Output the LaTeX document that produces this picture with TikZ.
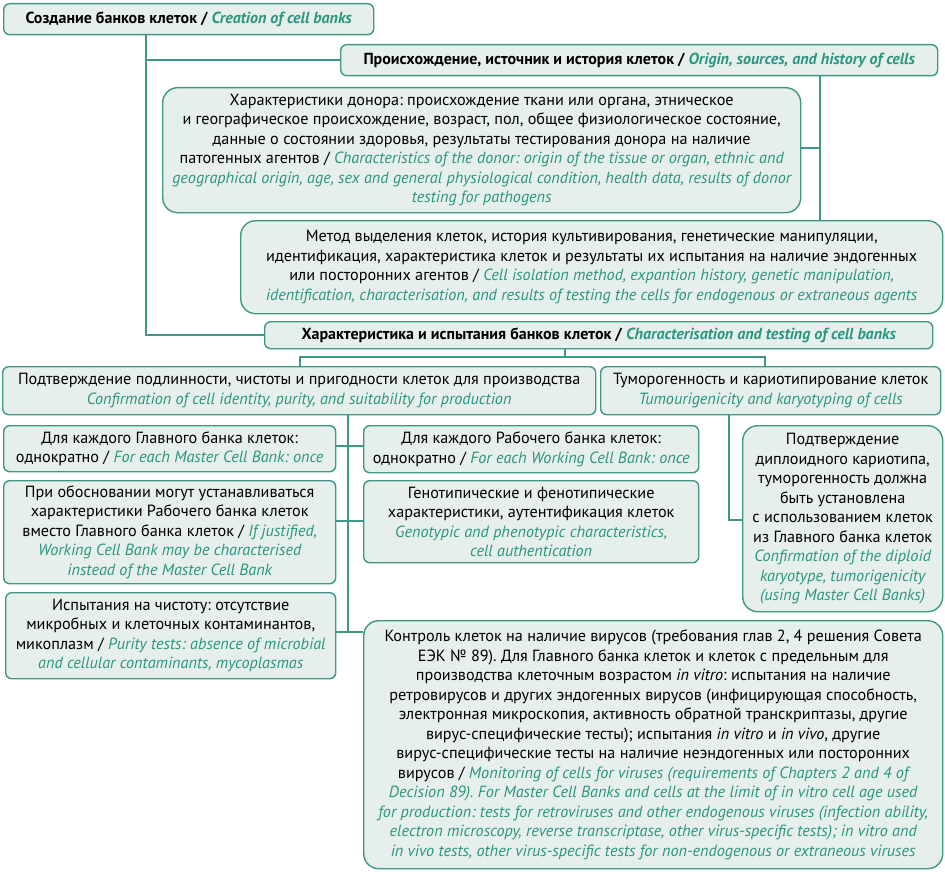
\documentclass[tikz,border=0pt]{standalone}
\usepackage{fontspec}
\setmainfont{PT Sans}
\usetikzlibrary{positioning}
\definecolor{tealtxt}{HTML}{2A9680}
\definecolor{tealline}{HTML}{3F9786}
\definecolor{boxfill}{HTML}{E6EFEC}
\newcommand{\en}[1]{\textcolor{tealtxt}{\itshape #1}}
\newcommand{\enb}[1]{\textcolor{tealtxt}{\bfseries\itshape #1}}
\begin{document}
\frenchspacing
\begin{tikzpicture}[x=1pt,y=-1pt,
  box/.style={draw=tealline, line width=1.4pt, fill=boxfill, rounded corners=6pt,
    anchor=north west, align=center, inner xsep=0pt, inner ysep=0pt,
    font=\fontsize{16.2}{19.5}\selectfont\frenchspacing},
  bigbox/.style={box, rounded corners=15pt},
  headbox/.style={box, font=\fontsize{16}{19.5}\selectfont\bfseries\frenchspacing},
  conn/.style={draw=tealline, line width=1.4pt}]
\useasboundingbox (0,0) rectangle (945,872);

% Level 0
\node[headbox, minimum width=370pt, minimum height=31pt] (A) at (3,3)
  {Создание банков клеток / \enb{Creation of cell banks}};
\node[headbox, minimum width=597pt, minimum height=31pt] (B) at (340,44)
  {Происхождение, источник и история клеток / \enb{Origin, sources, and history of cells}};
\node[bigbox, minimum width=638pt, minimum height=125pt] (C) at (162,87)
  {Характеристики донора: происхождение ткани или органа, этническое\\
   и географическое происхождение, возраст, пол, общее физиологическое состояние,\\
   данные о состоянии здоровья, результаты тестирования донора на наличие\\
   патогенных агентов / \en{Characteristics of the donor: origin of the tissue or organ, ethnic and}\\
   \en{geographical origin, age, sex and general physiological condition, health data, results of donor}\\
   \en{testing for pathogens}};
\node[bigbox, minimum width=702pt, minimum height=93pt] (D) at (240,220)
  {Метод выделения клеток, история культивирования, генетические манипуляции,\\
   идентификация, характеристика клеток и результаты их испытания на наличие эндогенных\\
   или посторонних агентов / \en{Cell isolation method, expantion history, genetic manipulation,}\\
   \en{identification, characterisation, and results of testing the cells for endogenous or extraneous agents}};
\node[headbox, minimum width=668pt, minimum height=27pt] (E) at (264,321)
  {Характеристика и испытания банков клеток / \enb{Characterisation and testing of cell banks}};

% Level 1
\node[box, minimum width=593pt, minimum height=48pt] (F) at (2,366)
  {Подтверждение подлинности, чистоты и пригодности клеток для производства\\
   \en{Confirmation of cell identity, purity, and suitability for production}};
\node[box, minimum width=340pt, minimum height=48pt] (G) at (600,366)
  {Туморогенность и кариотипирование клеток\\
   \en{Tumourigenicity and karyotyping of cells}};

% Level 2
\node[box, minimum width=332pt, minimum height=46pt] (H) at (3,425)
  {Для каждого Главного банка клеток:\\
   однократно / \en{For each Master Cell Bank: once}};
\node[box, minimum width=335pt, minimum height=47pt] (I) at (363,425)
  {Для каждого Рабочего банка клеток:\\
   однократно / \en{For each Working Cell Bank: once}};
\node[box, minimum width=332pt, minimum height=103pt] (J) at (3,480)
  {При обосновании могут устанавливаться\\
   характеристики Рабочего банка клеток\\
   вместо Главного банка клеток / \en{If justified,}\\
   \en{Working Cell Bank may be characterised}\\
   \en{instead of the Master Cell Bank}};
\node[box, minimum width=335pt, minimum height=82pt] (K) at (363,480)
  {Генотипические и фенотипические\\
   характеристики, аутентификация клеток\\
   \en{Genotypic and phenotypic characteristics,}\\
   \en{cell authentication}};
\node[box, minimum width=330pt, minimum height=86pt] (L) at (5,592)
  {Испытания на чистоту: отсутствие\\
   микробных и клеточных контаминантов,\\
   микоплазм / \en{Purity tests: absence of microbial}\\
   \en{and cellular contaminants, mycoplasmas}};
\node[bigbox, minimum width=200pt, minimum height=186pt] (M) at (742,425)
  {Подтверждение\\
   диплоидного кариотипа,\\
   туморогенность должна\\
   быть установлена\\
   с использованием клеток\\
   из Главного банка клеток\\
   \en{Confirmation of the diploid}\\
   \en{karyotype, tumorigenicity}\\
   \en{(using Master Cell Banks)}};
\node[bigbox, minimum width=579pt, minimum height=248pt] (N) at (363,620)
  {Контроль клеток на наличие вирусов (требования глав 2, 4 решения Совета\\
   ЕЭК № 89). Для Главного банка клеток и клеток с предельным для\\
   производства клеточным возрастом \textit{in vitro}: испытания на наличие\\
   ретровирусов и других эндогенных вирусов (инфицирующая способность,\\
   электронная микроскопия, активность обратной транскриптазы, другие\\
   вирус-специфические тесты); испытания \textit{in vitro} и \textit{in vivo}, другие\\
   вирус-специфические тесты на наличие неэндогенных или посторонних\\
   вирусов / \en{Monitoring of cells for viruses (requirements of Chapters 2 and 4 of}\\
   \en{Decision 89). For Master Cell Banks and cells at the limit of in vitro cell age used}\\
   \en{for production: tests for retroviruses and other endogenous viruses (infection ability,}\\
   \en{electron microscopy, reverse transcriptase, other virus-specific tests); in vitro and}\\
   \en{in vivo tests, other virus-specific tests for non-endogenous or extraneous viruses}};

% junction coordinates
\coordinate (jA) at (146,335);
\coordinate (jB) at (820,148);
\coordinate (jE) at (565,357);
\coordinate (jF) at (300,357);
\coordinate (jG) at (765,357);
\coordinate (jV1) at (348,446);
\coordinate (jV2) at (348,521);
\coordinate (jV3) at (348,632);
\coordinate (jK) at (729,520);

% connectors
\draw[conn] (A.south -| jA) -- (jA) -- (jA -| E.west);
\draw[conn] (B.west) -- (B.west -| jA);
\draw[conn] (B.south -| jB) -- (D.north -| jB);
\draw[conn] (jB) -- (jB -| C.east);
\draw[conn] (E.south -| jE) -- (jE);
\draw[conn] (F.north -| jF) -- (jF) -- (jG) -- (G.north -| jG);
\draw[conn] (F.south -| jV1) -- (jV3);
\draw[conn] (jV1 -| H.east) -- (jV1 -| I.west);
\draw[conn] (jV2 -| J.east) -- (jV2 -| K.west);
\draw[conn] (jV3 -| L.east) -- (jV3 -| N.west);
\draw[conn] (G.south -| jK) -- (jK) -- (jK -| M.west);
\end{tikzpicture}
\end{document}
